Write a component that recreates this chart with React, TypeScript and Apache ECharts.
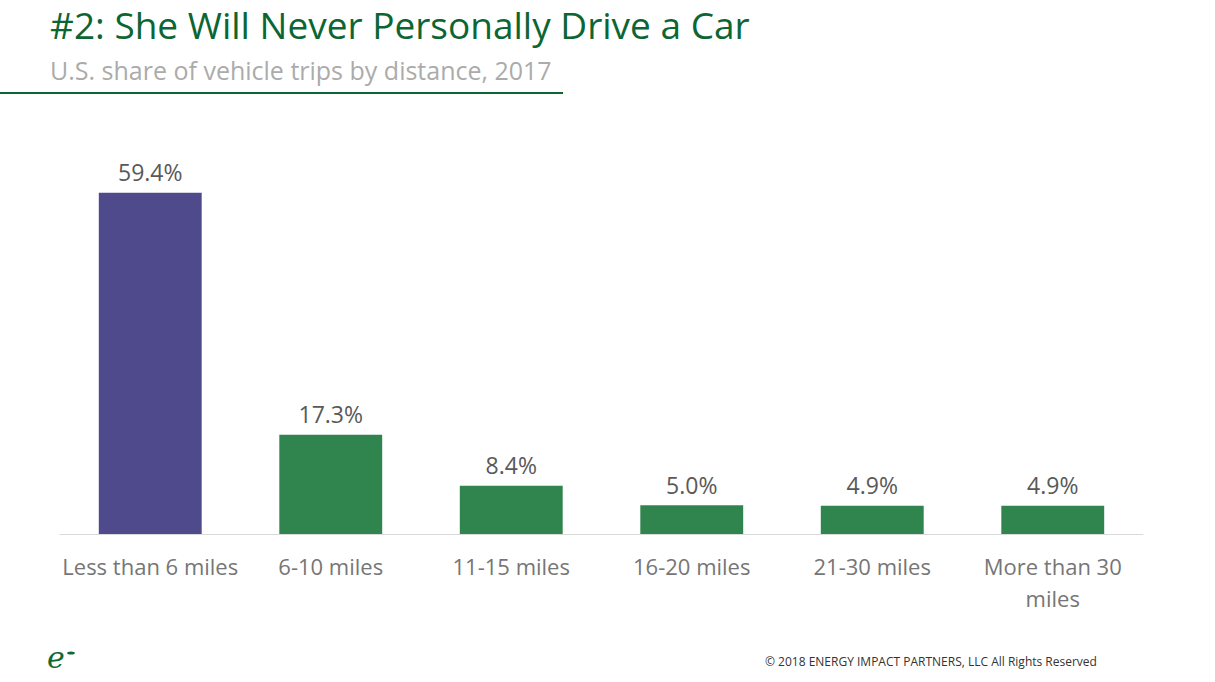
import React, { useEffect, useRef } from "react";
import * as echarts from "echarts";

const categories = [
  "Less than 6 miles",
  "6-10 miles",
  "11-15 miles",
  "16-20 miles",
  "21-30 miles",
  "More than 30 miles",
];
const shares = [59.4, 17.3, 8.4, 5.0, 4.9, 4.9];
const barColors = ["#4f4a8b", "#30854f", "#30854f", "#30854f", "#30854f", "#30854f"];

const FONT = "'Open Sans', 'Noto Sans', sans-serif";

export default function App() {
  const ref = useRef<HTMLDivElement>(null);
  useEffect(() => {
    if (!ref.current) return;
    const chart = echarts.init(ref.current, undefined, { renderer: "svg" });
    chart.setOption({
      animation: false,
      backgroundColor: "#ffffff",
      textStyle: { fontFamily: FONT },
      grid: { left: 60, right: 72, top: 132, bottom: 148, containLabel: false },
      xAxis: {
        type: "category",
        data: categories,
        axisLine: { show: true, lineStyle: { color: "#d9d9d9", width: 1 } },
        axisTick: { show: false },
        axisLabel: {
          interval: 0,
          color: "#767676",
          fontSize: 22,
          fontFamily: FONT,
          margin: 16,
          lineHeight: 32,
          formatter: (v: string) => (v === "More than 30 miles" ? "More than 30\nmiles" : v),
        },
      },
      yAxis: {
        type: "value",
        min: 0,
        max: 70,
        show: false,
        splitLine: { show: false },
      },
      series: [
        {
          type: "bar",
          barWidth: "57%",
          data: shares.map((v, i) => ({ value: v, itemStyle: { color: barColors[i] } })),
          label: {
            show: true,
            position: "top",
            distance: 9,
            color: "#595959",
            fontSize: 23,
            fontFamily: FONT,
            formatter: (p: any) => p.value.toFixed(1) + "%",
          },
        },
      ],
      graphic: [
        {
          type: "text",
          left: 50,
          top: 6,
          style: {
            text: "#2: She Will Never Personally Drive a Car",
            fill: "#0c6634",
            font: `37px ${FONT}`,
          },
        },
        {
          type: "text",
          left: 50,
          top: 57,
          style: {
            text: "U.S. share of vehicle trips by distance, 2017",
            fill: "#ababab",
            font: `25px ${FONT}`,
          },
        },
        {
          type: "rect",
          shape: { x: 0, y: 92, width: 563, height: 2 },
          style: { fill: "#0c6634" },
        },
        {
          type: "text",
          left: 47,
          top: 642,
          style: {
            text: "e",
            fill: "#0f6b35",
            font: `italic 30px 'DejaVu Serif', 'Liberation Serif', serif`,
          },
        },
        {
          type: "ellipse",
          shape: { cx: 71, cy: 653, rx: 4, ry: 1.6 },
          style: { fill: "#0f6b35" },
        },
        {
          type: "text",
          left: 765,
          top: 655,
          style: {
            text: "© 2018 ENERGY IMPACT PARTNERS, LLC All Rights Reserved",
            fill: "#333333",
            font: `12px ${FONT}`,
          },
        },
      ],
    });
    return () => chart.dispose();
  }, []);
  return (
    <div
      ref={ref}
      style={{ position: "fixed", left: 0, top: 0, width: 1215, height: 682 }}
    />
  );
}
